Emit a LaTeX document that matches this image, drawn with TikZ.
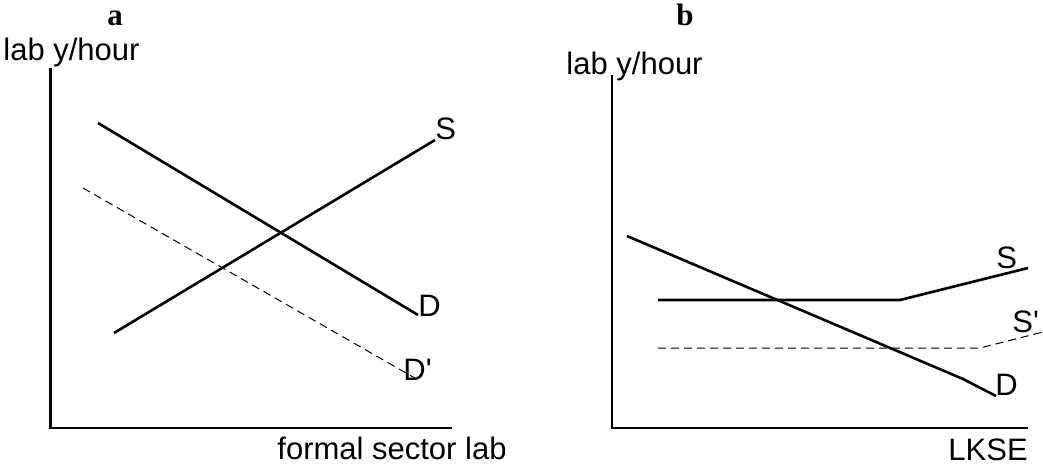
\documentclass[tikz,border=0pt]{standalone}
\usepackage{fontspec}
\setmainfont{Liberation Sans}
\newfontfamily\panelfont{Liberation Serif}
\usetikzlibrary{positioning}

\begin{document}
\begin{tikzpicture}[x=0.5pt,y=-0.5pt,
  axis/.style={line width=1.3pt},
  curve/.style={line width=1.3pt},
  shifted/.style={line width=0.5pt,dash pattern=on 4pt off 2.5pt},
  lbl/.style={font=\fontsize{15.5}{18}\selectfont,inner sep=0pt,anchor=base west},
  panel/.style={font=\panelfont\bfseries\fontsize{15.5}{18}\selectfont,inner sep=0pt,anchor=base}]
\useasboundingbox (0,0) rectangle (1043,465);
% Panel a: formal sector
\node[panel] (ta) at (115,26) {a};
\node[lbl] (ya) at (3,61) {lab y/hour};
\node[lbl] (xa) at (277,459) {formal sector lab};
\coordinate (aY) at (50.7,68);
\coordinate (aO) at (50.7,428);
\coordinate (aX) at (452,428);
\draw[axis] (aY) -- (aO) -- (aX);
% supply and demand
\coordinate (aS0) at (114,333);
\coordinate (aS1) at (435,140);
\coordinate (aD0) at (98,123);
\coordinate (aD1) at (418,315);
\coordinate (aE0) at (83,188);
\coordinate (aE1) at (420,381);
\draw[curve] (aS0) -- (aS1);
\draw[curve] (aD0) -- (aD1);
\draw[shifted] (aE0) -- (aE1);
\node[lbl] (aSl) at (435,140) {S};
\node[lbl] (aDl) at (418,316) {D};
\node[lbl] (aEl) at (403,380) {D\textquotesingle};
% Panel b: LKSE
\node[panel] (tb) at (685,26) {b};
\node[lbl,anchor=base east] (yb) at (703,75) {lab y/hour};
\node[lbl] (xb) at (948,460) {LKSE};
\coordinate (bY) at (612,75);
\coordinate (bO) at (612,428);
\coordinate (bX) at (1028,428);
\draw[axis] (bY) -- (bO) -- (bX);
% kinked supply, shifted supply, demand
\coordinate (bS0) at (658,300);
\coordinate (bS1) at (900,300);
\coordinate (bS2) at (1028,268);
\coordinate (bE0) at (658,348);
\coordinate (bE1) at (980,348);
\coordinate (bE2) at (1043,332);
\coordinate (bD0) at (627,236);
\coordinate (bD1) at (963,379);
\coordinate (bD2) at (996,396);
\draw[curve] (bS0) -- (bS1) -- (bS2);
\draw[shifted] (bE0) -- (bE1) -- (bE2);
\draw[curve] (bD0) -- (bD1) -- (bD2);
\node[lbl] (bSl) at (996,268) {S};
\node[lbl] (bEl) at (1012,332) {S\textquotesingle};
\node[lbl] (bDl) at (995,395) {D};
\end{tikzpicture}
\end{document}
